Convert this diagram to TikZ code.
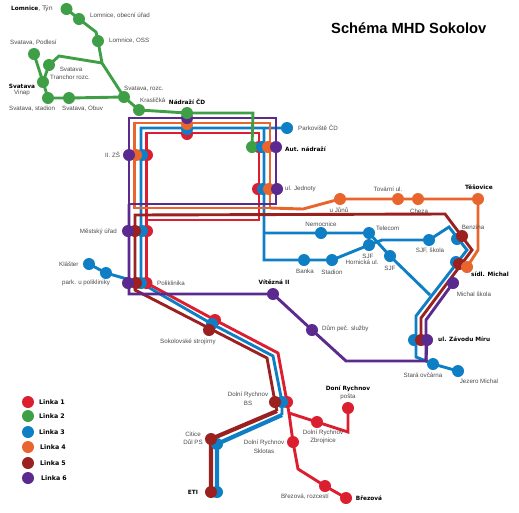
\documentclass[tikz,border=0pt]{standalone}
\usepackage{fontspec}
\setmainfont{Liberation Sans}
\newfontfamily\boldface{DejaVu Sans}
\usetikzlibrary{backgrounds}
\definecolor{lineone}{HTML}{DC1F30}
\definecolor{linetwo}{HTML}{3E9F47}
\definecolor{linethree}{HTML}{0E7FC4}
\definecolor{linefour}{HTML}{E8662E}
\definecolor{linefive}{HTML}{9B2020}
\definecolor{linesix}{HTML}{5A2A8E}
\definecolor{txt}{HTML}{4A4A4A}
\tikzset{
  stopdot/.style={circle,minimum size=12pt,inner sep=0pt},
  route/.style={line width=2.9pt,line join=miter},
  lbl/.style={font=\fontsize{6.2}{7}\selectfont,text=txt,inner sep=0pt},
  bold/.style={font=\boldface\bfseries\fontsize{5.8}{7}\selectfont,text=black,inner sep=0pt},
}
\begin{document}
\begin{tikzpicture}[x=1pt,y=-1pt]
\useasboundingbox (0,0) rectangle (519,512);

% stops, bottom ones first
\foreach \name/\xx/\yy in {nadrR/187/134,zsR/147/155,autR/259/147,jedR/258/189,mesR/147/231,polR/146.5/283,sokR/215/320,bsR/287/402,zbr/317/422,posta/348/408,sklo/293/442,brezroz/325/486,brez/346/498}
  \node[stopdot,fill=lineone] (\name) at (\xx,\yy) {};
\node[stopdot,fill=linetwo] (autG) at (252,147) {};
\foreach \name/\xx/\yy in {nadrB/187/129,zsB/142/155,autB/262/147,jedB/263/189,mesB/142/231,polB/141/283,klas/89/264,park/106/273,sokB/212/324,bsB/282/402,citB/217/444,etiB/217/492,parkov/287/128,nem/321/233,telec/369/233,banka/304/260,stad/332/260,horn/369/245,sjf/390/256,sjfsk/429/240,benzB/457/239,sidlB/456/262,zavB/414/340,stara/433/364,jez/458/371}
  \node[stopdot,fill=linethree] (\name) at (\xx,\yy) {};
\foreach \name/\xx/\yy in {nadrO/187/124,zsO/136/155,autO/268/147,jedO/269/189,junu/340/199,tov/398/199,cheza/418/199,tes/478/199}
  \node[stopdot,fill=linefour] (\name) at (\xx,\yy) {};
\foreach \name/\xx/\yy in {mesD/135/231,polD/136/283,sokD/209/330,bsD/275/402,citD/211/439,etiD/211/492,benzD/462/236,sidlD/459/264,zavD/421/340}
  \node[stopdot,fill=linefive] (\name) at (\xx,\yy) {};
\node[stopdot,fill=linefour] (sidlO) at (467,267) {};
\foreach \name/\xx/\yy in {nadrP/187/118,zsP/129/155,autP/276/147,jedP/277/189,mesP/128/231,polP/128/283,vit/273/294,dum/312/330,misk/453/283,zavP/427/340}
  \node[stopdot,fill=linesix] (\name) at (\xx,\yy) {};
\foreach \name/\xx/\yy in {lomtyn/66.5/9,lomob/79/19,lomoss/98/41,podl/34/54,tranch/49/65,vinap/43/82,stadion/48/98,obuv/69/98,rozc/124/97,krasl/139/110,nadrG/187/113}
  \node[stopdot,fill=linetwo] (\name) at (\xx,\yy) {};

% bends
\coordinate (r1) at (146.5,133);
\coordinate (r2) at (259,133);
\coordinate (r3) at (259,220);
\coordinate (r4) at (146.5,220);
\coordinate (r5) at (278,353);
\coordinate (r6) at (289,413);
\coordinate (r7) at (348,432);
\coordinate (r8) at (298,469);
\coordinate (g1) at (96,32);
\coordinate (g2) at (102,63);
\coordinate (g3) at (59,56);
\coordinate (g4) at (253,113);
\coordinate (b1) at (141,128);
\coordinate (b2) at (264,128);
\coordinate (b3) at (264,233);
\coordinate (b4) at (264,260);
\coordinate (b5) at (430,295);
\coordinate (b6) at (382,240);
\coordinate (b7) at (449,227);
\coordinate (b8) at (467,250);
\coordinate (b9) at (416,316);
\coordinate (b10) at (416,357);
\coordinate (b11) at (426,361);
\coordinate (b12) at (273,356);
\coordinate (b13) at (282,415);
\coordinate (o1) at (134.5,123);
\coordinate (o2) at (270,123);
\coordinate (o3) at (270,208);
\coordinate (o4) at (134.5,208);
\coordinate (o5) at (303,209);
\coordinate (o6) at (478,250);
\coordinate (d1) at (135,215);
\coordinate (d2) at (445,214);
\coordinate (d3) at (472,250);
\coordinate (d4) at (421,318);
\coordinate (d5) at (135,290);
\coordinate (d6) at (267,358);
\coordinate (d7) at (277,411);
\coordinate (p1) at (129,118);
\coordinate (p2) at (276,118);
\coordinate (p3) at (276,204);
\coordinate (p4) at (129,204);
\coordinate (p5) at (129,294);
\coordinate (p6) at (346,361);
\coordinate (p7) at (426,361);
\coordinate (p8) at (426,320);

\begin{scope}[on background layer]
\draw[route,lineone] (r1) -- (r2) -- (r3) -- (r4) -- cycle;
\draw[route,lineone] (r4) -- (polR.center) -- (sokR.center) -- (r5) -- (bsR.center) -- (r6) -- (zbr.center) -- (r7) -- (posta.center);
\draw[route,lineone] (r6) -- (sklo.center) -- (r8) -- (brezroz.center) -- (brez.center);

\draw[route,linethree] (parkov.center) -- (b2) -- (b1) -- (polB.center) -- (sokB.center) -- (b12) -- (bsB.center) -- (b13);
\draw[route,linethree,line width=4.2pt] (b13) -- (citB.center) -- (etiB.center);
\draw[route,linethree] (klas.center) -- (park.center) -- (polB.center);
\draw[route,linethree] (b2) -- (b4) -- (banka.center) -- (stad.center) -- (horn.center) -- (b6) -- (sjfsk.center) -- (b7) -- (b8) -- (b9) -- (b10) -- (b11) -- (stara.center) -- (jez.center);
\draw[route,linethree] (b3) -- (nem.center) -- (telec.center) -- (sjf.center) -- (b5);

\draw[route,linefour] (o1) -- (o2) -- (o3) -- (o4) -- cycle;
\draw[route,linefour] (o3) -- (o5) -- (junu.center) -- (tes.center) -- (o6) -- (sidlO.center);

\draw[route,linefive] (bsD.center) -- (d6) -- (d5) -- (d1) -- (d2) -- (d3) -- (d4) -- (zavD.center);
\draw[route,linefive] (bsD.center) -- (d7);
\draw[route,linefive,line width=4.2pt] (d7) -- (citD.center) -- (etiD.center);

\draw[route,linesix] (p1) -- (p2) -- (p3) -- (p4) -- cycle;
\draw[route,linesix] (p4) -- (p5) -- (vit.center) -- (dum.center) -- (p6) -- (p7) -- (p8) -- (misk.center);
\draw[route,linesix] (p7) -- (zavP.center);

\draw[route,linetwo] (lomtyn.center) -- (lomob.center) -- (g1) -- (lomoss.center) -- (g2) -- (rozc.center) -- (krasl.center) -- (nadrG.center) -- (g4) -- (autG.center);
\draw[route,linetwo] (tranch.center) -- (g3) -- (g2);
\draw[route,linetwo] (podl.center) -- (vinap.center) -- (stadion.center) -- (obuv.center) -- (rozc.center);
\draw[route,linetwo] (tranch.center) -- (vinap.center);
\end{scope}

% labels
\node[bold,anchor=west] (tLomtyn) at (11,9) {Lomnice\textmd{\fontsize{6.2}{7}\selectfont\color{txt}, Týn}};
\node[lbl,anchor=west] (tLomob) at (90,16) {Lomnice, obecní úřad};
\node[lbl,anchor=west] (tLomoss) at (109,41) {Lomnice, OSS};
\node[lbl,anchor=west] (tPodl) at (10,43) {Svatava, Podlesí};
\node[lbl] (tTranch) at (71,69) {Svatava};
\node[lbl] (tTranchb) at (70,77) {Tranchor rozc.};
\node[bold] (tVinap) at (22,86) {Svatava};
\node[lbl] (tVinapb) at (22,93) {Vinap};
\node[lbl,anchor=west] (tStadion) at (9,109) {Svatava, stadion};
\node[lbl,anchor=west] (tObuv) at (62,109) {Svatava, Obuv};
\node[lbl,anchor=west] (tRozc) at (124,89) {Svatava, rozc.};
\node[lbl,anchor=west] (tKrasl) at (140,100) {Krasličká};
\node[bold] (tNadr) at (187,102) {Nádraží ČD};
\node[lbl,anchor=west] (tParkov) at (298,128) {Parkoviště ČD};
\node[bold,anchor=west] (tAut) at (285,149) {Aut. nádraží};
\node[lbl,anchor=west] (tJed) at (285,189) {ul. Jednoty};
\node[lbl,anchor=west] (tZs) at (105,155) {II. ZŠ};
\node[lbl,anchor=east] (tMes) at (117,232) {Městský úřad};
\node[lbl,anchor=west] (tKlas) at (59,264) {Klášter};
\node[lbl,anchor=west] (tPark) at (62,283) {park. u polikliniky};
\node[lbl,anchor=west] (tPol) at (157,283) {Poliklinika};
\node[bold] (tVit) at (274,282) {Vítězná II};
\node[lbl,anchor=west] (tSok) at (160,342) {Sokolovské strojírny};
\node[lbl,anchor=west] (tDum) at (322,329) {Dům peč. služby};
\node[lbl] (tJunu) at (339,210) {u Jůnů};
\node[lbl] (tTov) at (388,189) {Tovární ul.};
\node[lbl] (tCheza) at (419,211) {Cheza};
\node[bold] (tTes) at (479,187) {Těšovice};
\node[lbl] (tNem) at (321,224) {Nemocnice};
\node[lbl,anchor=west] (tTelec) at (376,228) {Telecom};
\node[lbl] (tHorn) at (368,256) {SJF};
\node[lbl] (tHornb) at (362,262) {Hornická ul.};
\node[lbl] (tSjf) at (390,268) {SJF};
\node[lbl] (tSjfsk) at (430,251) {SJF, škola};
\node[lbl] (tBenz) at (473,227) {Benzina};
\node[bold] (tSidl) at (490,274) {sídl. Michal};
\node[lbl] (tBanka) at (305,271) {Banka};
\node[lbl] (tStad) at (332,272) {Stadion};
\node[lbl] (tMisk) at (474,294) {Michal škola};
\node[bold,anchor=west] (tZav) at (438,339) {ul. Závodu Míru};
\node[lbl] (tStara) at (423,375) {Stará ovčárna};
\node[lbl] (tJez) at (479,381) {Jezero Michal};
\node[bold] (tPosta) at (348,389) {Doní Rychnov};
\node[lbl] (tPostab) at (348,397) {pošta};
\node[lbl] (tBs) at (248,395) {Dolní Rychnov};
\node[lbl] (tBsb) at (248,403) {BS};
\node[lbl] (tZbr) at (323,433) {Dolní Rychnov};
\node[lbl] (tZbrb) at (323,441) {Zbrojnice};
\node[lbl] (tSklo) at (264,443) {Dolní Rychnov};
\node[lbl] (tSklob) at (264,451) {Sklotas};
\node[lbl] (tCit) at (193,434) {Citice};
\node[lbl] (tCitb) at (193,442) {Důl PS};
\node[bold] (tEti) at (193,492) {ETI};
\node[lbl] (tBrezroz) at (305,497) {Březová, rozcestí};
\node[bold] (tBrez) at (369,498) {Březová};

% key
\foreach \num/\col/\yy/\tx in {1/lineone/402/39,2/linetwo/416/39,3/linethree/432/39,4/linefour/447/40,5/linefive/463/40,6/linesix/478/41}{
  \node[stopdot,fill=\col] (key\num) at (28,\yy) {};
  \node[bold,anchor=west,font=\boldface\bfseries\fontsize{6.3}{7}\selectfont] (keyt\num) at (\tx,\yy) {Linka \num};
}

\node[font=\bfseries\fontsize{14.7}{18}\selectfont,anchor=west,inner sep=0pt] (title) at (331,28) {Schéma MHD Sokolov};
\end{tikzpicture}
\end{document}
